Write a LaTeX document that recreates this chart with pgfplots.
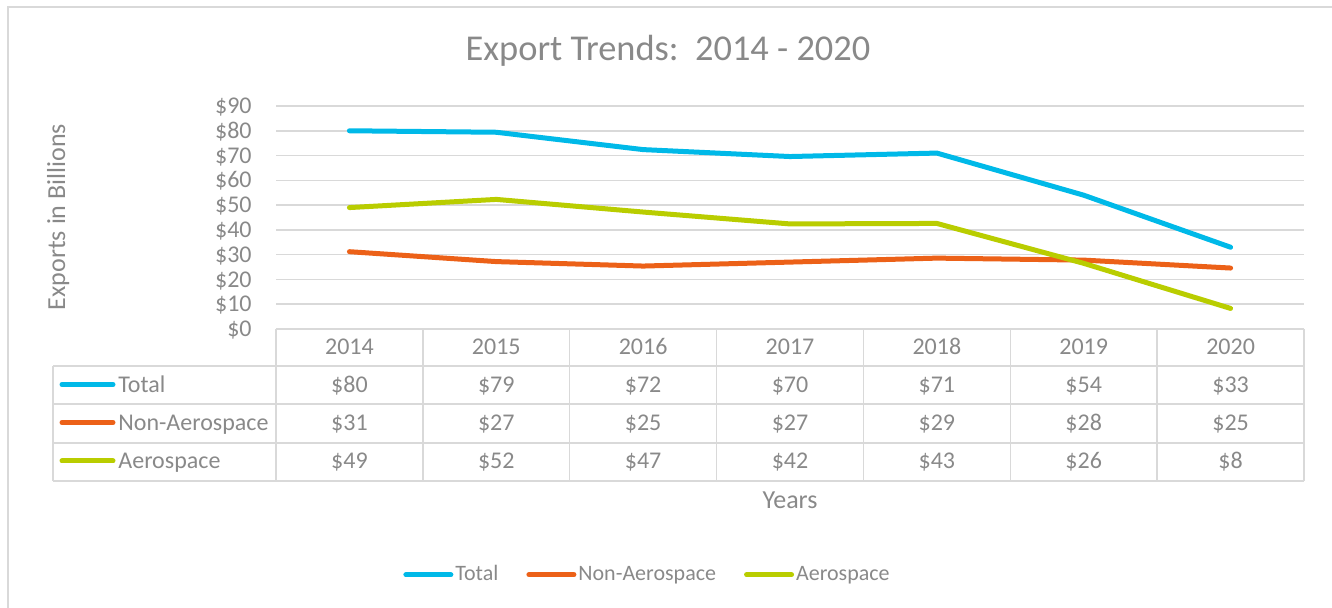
\documentclass[border=0pt]{standalone}
\usepackage{pgfplots}
\pgfplotsset{compat=1.18}
\usepackage{fontspec}
\setmainfont{Carlito}
\definecolor{ctotal}{RGB}{0,185,232}
\definecolor{cnon}{RGB}{236,97,24}
\definecolor{caero}{RGB}{185,205,0}
\definecolor{txt}{RGB}{137,137,137}
\definecolor{gridc}{RGB}{217,217,217}
\definecolor{bordc}{RGB}{217,217,217}
\begin{document}
\begin{tikzpicture}
\useasboundingbox (0,0) rectangle (666pt,304pt);
\begin{scope}[x=0.5pt,y=-0.5pt,yshift=304pt]
  \draw[bordc, line width=0.75pt] (8,608) -- (8,7) -- (1332,7);
  % title
  \node[anchor=base, text=txt, font=\fontsize{18.2}{21}\selectfont, inner sep=0pt] at (668,61) {Export Trends:\ \ 2014 - 2020};
  % y label
  \node[anchor=base, rotate=90, text=txt, font=\fontsize{13}{15}\selectfont, inner sep=0pt] at (65,217) {Exports in Billions};
  % x label
  \node[anchor=base, text=txt, font=\fontsize{13}{15}\selectfont, inner sep=0pt] at (790,509) {Years};
  % data table grid
  \foreach \i in {0,...,7} \draw[bordc, line width=0.75pt] ({276+\i*146.857},329) -- ({276+\i*146.857},481);
  \draw[bordc, line width=0.75pt] (276,329) -- (1304,329);
  \foreach \yy in {366,404,443,481} \draw[bordc, line width=0.75pt] (53,\yy) -- (1304,\yy);
  \draw[bordc, line width=0.75pt] (53,366) -- (53,481);
  % table text
  \begin{scope}[every node/.style={anchor=base, text=txt, font=\fontsize{12}{14}\selectfont, inner sep=0pt}]
    \foreach \v [count=\i from 0] in {2014,2015,2016,2017,2018,2019,2020}
      \node at ({276+(\i+0.5)*146.857},355) {\v};
    \foreach \v [count=\i from 0] in {80,79,72,70,71,54,33}
      \node at ({276+(\i+0.5)*146.857},392.7) {\$\v};
    \foreach \v [count=\i from 0] in {31,27,25,27,29,28,25}
      \node at ({276+(\i+0.5)*146.857},430.7) {\$\v};
    \foreach \v [count=\i from 0] in {49,52,47,42,43,26,8}
      \node at ({276+(\i+0.5)*146.857},469) {\$\v};
    \node[anchor=base west] at (118,392.7) {Total};
    \node[anchor=base west] at (118,430.7) {Non-Aerospace};
    \node[anchor=base west] at (118,469) {Aerospace};
  \end{scope}
  \draw[ctotal, line width=2.5pt, line cap=round] (62,384.5) -- (113,384.5);
  \draw[cnon, line width=2.5pt, line cap=round] (62,422.5) -- (113,422.5);
  \draw[caero, line width=2.5pt, line cap=round] (62,461) -- (113,461);
\end{scope}
\begin{axis}[
  at={(138pt,139.5pt)}, anchor=south west,
  scale only axis, width=514pt, height=111.5pt,
  xmin=-0.5, xmax=6.5, ymin=0, ymax=90,
  axis line style={draw=none},
  xtick=\empty,
  ytick={0,10,...,90},
  yticklabels={\$0,\$10,\$20,\$30,\$40,\$50,\$60,\$70,\$80,\$90},
  ymajorgrids, grid style={color=gridc, line width=0.75pt},
  major tick length=0pt,
  yticklabel style={font=\fontsize{12}{14}\selectfont, text=txt, inner sep=0pt, text height=7.6pt, text depth=0pt, anchor=east, xshift=-12pt},
  legend columns=3,
  legend style={at={(0.1235,-1.102)}, anchor=west, draw=none, fill=none, inner sep=0pt,
    font=\fontsize{11}{13}\selectfont, text=txt,
    nodes={inner sep=1pt},
    /tikz/every even column/.append style={column sep=13pt}},
  legend cell align=left,
  legend image code/.code={\draw[line width=2.5pt, line cap=round] (1.25pt,0pt) -- (23.75pt,0pt);},
  every axis plot/.append style={line width=2.5pt, line cap=round, line join=round, mark=none},
]
\addplot[ctotal] coordinates {(0,80) (1,79.4) (2,72.4) (3,69.6) (4,71) (5,54) (6,33)};
\addplot[cnon] coordinates {(0,31.2) (1,27.2) (2,25.4) (3,27) (4,28.6) (5,27.8) (6,24.6)};
\addplot[caero] coordinates {(0,49) (1,52.3) (2,47.2) (3,42.4) (4,42.6) (5,26.5) (6,8.3)};
\legend{Total,Non-Aerospace,Aerospace}
\end{axis}
\end{tikzpicture}
\end{document}
